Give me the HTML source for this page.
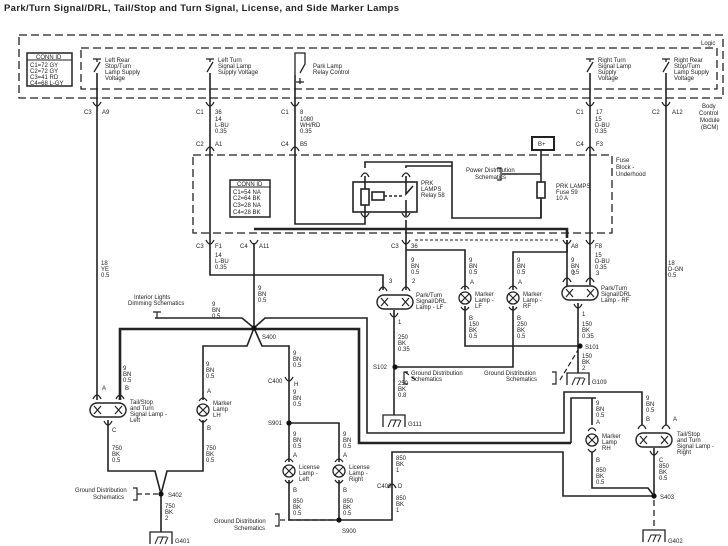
<!DOCTYPE html>
<html><head><meta charset="utf-8"><style>
html,body{margin:0;padding:0;background:#fff;}
svg{display:block;}
text{font-family:"Liberation Sans",sans-serif;fill:#222;font-size:6px;}
.t{font-size:9.5px;font-weight:bold;}
</style></head><body>
<svg width="728" height="546" viewBox="0 0 728 546" xmlns="http://www.w3.org/2000/svg">
<defs>
<g id="cup"><path d="M-4,-3 Q0,5 4,-3" fill="none" stroke="#222" stroke-width="1.3"/></g>
<g id="arch"><path d="M-4,3 Q0,-5 4,3" fill="none" stroke="#222" stroke-width="1.3"/></g>
<g id="bulb"><path d="M-4,-9 Q0,-15 4,-9" fill="none" stroke="#222" stroke-width="1.2"/><path d="M-4,9 Q0,15 4,9" fill="none" stroke="#222" stroke-width="1.2"/><circle r="6" fill="#fff" stroke="#222" stroke-width="1.3"/><path d="M-4,-4 L4,4 M4,-4 L-4,4" stroke="#222" stroke-width="1.2"/></g>
<g id="dbl"><rect x="-18" y="-7" width="36" height="14" rx="7" fill="#fff" stroke="#222" stroke-width="1.4"/><path d="M-14,-4 L-7,4 M-7,-4 L-14,4 M7,-4 L14,4 M14,-4 L7,4" stroke="#222" stroke-width="1.2"/></g>
<g id="gnd"><path d="M-11,12 L-11,0 L11,0 L11,12" fill="none" stroke="#222" stroke-width="1.3"/><path d="M-6,12 L-3,5 L6,5 M-1,12 L2,5 M4,12 L7,5" fill="none" stroke="#222" stroke-width="1"/></g>
<g id="sw"><path d="M-4,0 L4,0 M0,0 L0,3 M3,3 L-3,13" fill="none" stroke="#222" stroke-width="1.3"/></g>
</defs>
<text x="4" y="11" class="t" textLength="395">Park/Turn Signal/DRL, Tail/Stop and Turn Signal, License, and Side Marker Lamps</text>

<g fill="none" stroke="#222" stroke-width="1.3" stroke-dasharray="8,4">
<rect x="19" y="35" width="704" height="63"/>
<rect x="81" y="48" width="636" height="41"/>
<rect x="193" y="155" width="419" height="78"/>
</g>
<text x="701" y="45">Logic</text>
<text x="702" y="108">Body</text><text x="699" y="115">Control</text><text x="700" y="122">Module</text><text x="701" y="129">(BCM)</text>
<text x="616" y="162">Fuse</text><text x="616" y="169">Block -</text><text x="616" y="176">Underhood</text>

<!-- CONN ID boxes -->
<rect x="27" y="53" width="45" height="33" fill="none" stroke="#222" stroke-width="1.5"/>
<line x1="27" y1="60" x2="72" y2="60" stroke="#222"/>
<text x="36" y="59">CONN ID</text>
<text x="30" y="67">C1=72 GY</text><text x="30" y="73">C2=72 GY</text><text x="30" y="79">C3=41 RD</text><text x="30" y="85">C4=68 L-GY</text>
<rect x="230" y="180" width="40" height="37" fill="none" stroke="#222" stroke-width="1.5"/>
<line x1="230" y1="187" x2="270" y2="187" stroke="#222"/>
<text x="237" y="186">CONN ID</text>
<text x="233" y="194">C1=54 NA</text><text x="233" y="200">C2=64 BK</text><text x="233" y="207">C3=28 NA</text><text x="233" y="214">C4=28 BK</text>

<!-- switches -->
<use href="#sw" x="97" y="59"/><use href="#sw" x="210" y="59"/><use href="#sw" x="590" y="59"/><use href="#sw" x="666" y="59"/>
<text x="105" y="62">Left Rear</text><text x="105" y="68">Stop/Turn</text><text x="105" y="74">Lamp Supply</text><text x="105" y="80">Voltage</text>
<text x="218" y="62">Left Turn</text><text x="218" y="68">Signal Lamp</text><text x="218" y="74">Supply Voltage</text>
<path d="M295,75 L295,53 L305,53 L305,64 L300,73 M296,82 L304,82 M300,78 L300,84" fill="none" stroke="#222" stroke-width="1.3"/>
<text x="313" y="68">Park Lamp</text><text x="313" y="74">Relay Control</text>
<text x="598" y="62">Right Turn</text><text x="598" y="68">Signal Lamp</text><text x="598" y="74">Supply</text><text x="598" y="80">Voltage</text>
<text x="674" y="62">Right Rear</text><text x="674" y="68">Stop/Turn</text><text x="674" y="74">Lamp Supply</text><text x="674" y="80">Voltage</text>

<g fill="none" stroke="#222" stroke-width="1.6">
<!-- main verticals -->
<path d="M97,73 L97,400"/>
<path d="M210,73 L210,275 L383,275 L383,290"/>
<path d="M295,75 L295,224 L365,224 L365,216"/>
<path d="M590,73 L590,285"/>
<path d="M666,73 L666,425"/>
<path d="M254,243 L254,328"/>
<!-- relay -->
<rect x="353" y="182" width="64" height="30"/>
<rect x="361" y="189" width="8" height="16"/>
<path d="M365,176 L365,189 M365,205 L365,216 M406,176 L406,194 L413,186 M406,200 L406,216"/>
<rect x="372" y="192" width="12" height="8"/>
<path d="M384,196 L404,196" stroke-dasharray="3,2"/>
<path d="M365,168 L365,162 L452,162 L452,218 L541,218 L541,200"/>
<path d="M406,168 L406,166 L452,166"/>
<path d="M541,150 L541,182 M541,198 L541,218"/>
<rect x="537" y="182" width="8" height="16"/>
<path d="M502,174 L541,174"/>
<path d="M406,220 L406,290"/>
<path d="M406,250 L465,250 L465,290"/>
<path d="M567,240 L567,252 L513,252 L513,290"/>
<path d="M567,240 L567,286"/>
<!-- lower -->
<path d="M394,310 L394,415"/>
<path d="M394,367 L513,367 L513,306"/>
<path d="M465,306 L465,346 L580,346"/>
<path d="M578,303 L578,373"/>
<path d="M155,318 L242,318 L254,328 L265,318 L367,318 L367,433 L564,433 L564,392 L642,392 L642,425"/>
<path d="M254,328 L247,346 L203,346 L203,400 M254,328 L262,346 L289,346 L289,462"/>
<path d="M289,423 L339,423 L339,462"/>
<path d="M108,420 L108,471 L155,471 L161,494 L167,471 L203,471 L203,420"/>
<path d="M161,494 L161,532"/>
<path d="M289,480 L289,520 L339,520 L339,480"/>
<path d="M339,520 L392,520 L392,452 L563,452 L563,496 L654,496"/>
<path d="M592,398 L592,425 M592,452 L592,488 L648,488 L654,496 L654,448"/>
<path d="M571,443 L571,398 L596,398"/>
</g>
<g fill="none" stroke="#222" stroke-width="2.6">
<path d="M254,229 L567,229 L567,238"/>
<path d="M120,400 L120,329 L359,329 L359,443 L571,443"/>
</g>
<path d="M654,500 L654,530" stroke="#222" stroke-width="1.3" stroke-dasharray="6,4"/>
<path d="M415,240 L560,240" stroke="#222" stroke-width="1" stroke-dasharray="3,2"/>
<g stroke="#222" stroke-width="1.2" stroke-dasharray="5,3" fill="none">
<path d="M137,494 L161,494"/><path d="M280,520 L336,520"/><path d="M405,372 L416,380"/><path d="M560,380 L578,350"/>
</g>
<!-- B+ -->
<rect x="532" y="137" width="22" height="13" fill="#fff" stroke="#222" stroke-width="2"/>
<text x="538" y="146">B+</text>
<path d="M497,168 L501,168 L501,180 L497,180 M157,318 L157,312 M153,312 L161,312 M133,488 L137,488 L137,500 L133,500 M275,514 L279,514 L279,526 L275,526 M408,372 L404,372 L404,384 L408,384 M552,372 L556,372 L556,384 L552,384" fill="none" stroke="#222" stroke-width="1.2"/>
<text x="466" y="172">Power Distribution</text><text x="475" y="179">Schematics</text>
<text x="556" y="188">PRK LAMPS</text><text x="556" y="194">Fuse 59</text><text x="556" y="200">10 A</text>
<text x="421" y="185">PRK</text><text x="421" y="191">LAMPS</text><text x="421" y="197">Relay 58</text>
<text x="134" y="299">Interior Lights</text><text x="128" y="305">Dimming Schematics</text>
<text x="75" y="492">Ground Distribution</text><text x="93" y="499">Schematics</text>
<text x="214" y="523">Ground Distribution</text><text x="234" y="530">Schematics</text>
<text x="411" y="375">Ground Distribution</text><text x="411" y="381">Schematics</text>
<text x="484" y="375">Ground Distribution</text><text x="506" y="381">Schematics</text>

<!-- connectors -->
<use href="#cup" x="97" y="105"/><use href="#cup" x="210" y="105"/><use href="#cup" x="295" y="105"/><use href="#cup" x="590" y="105"/><use href="#cup" x="666" y="105"/>
<use href="#arch" x="210" y="148"/><use href="#arch" x="295" y="148"/><use href="#arch" x="590" y="148"/>
<use href="#cup" x="210" y="243"/><use href="#cup" x="254" y="243"/><use href="#cup" x="406" y="243"/><use href="#cup" x="567" y="243"/><use href="#cup" x="590" y="243"/>
<use href="#arch" x="365" y="174"/><use href="#arch" x="406" y="174"/><use href="#cup" x="365" y="216"/><use href="#cup" x="406" y="216"/>
<use href="#cup" x="289" y="380"/><use href="#arch" x="392" y="485"/>
<text x="84" y="114">C3</text><text x="102" y="114">A9</text>
<text x="196" y="114">C1</text><text x="215" y="114">36</text>
<text x="281" y="114">C1</text><text x="300" y="114">8</text>
<text x="576" y="114">C1</text><text x="596" y="114">17</text>
<text x="652" y="114">C2</text><text x="672" y="114">A12</text>
<text x="196" y="146">C2</text><text x="215" y="146">A1</text>
<text x="281" y="146">C4</text><text x="300" y="146">B5</text>
<text x="576" y="146">C4</text><text x="596" y="146">F3</text>
<text x="196" y="248">C3</text><text x="215" y="248">F1</text>
<text x="240" y="248">C4</text><text x="259" y="248">A11</text>
<text x="391" y="248">C3</text><text x="411" y="248">36</text>
<text x="571" y="248">A8</text><text x="595" y="248">F8</text>
<text x="268" y="383">C400</text><text x="294" y="386">H</text>
<text x="377" y="488">C400</text><text x="398" y="488">D</text>
<!-- wire labels -->
<g>
<text x="215" y="121">14</text><text x="215" y="127">L-BU</text><text x="215" y="133">0.35</text>
<text x="300" y="121">1080</text><text x="300" y="127">WH/RD</text><text x="300" y="133">0.35</text>
<text x="595" y="121">15</text><text x="595" y="127">D-BU</text><text x="595" y="133">0.35</text>
<text x="215" y="257">14</text><text x="215" y="263">L-BU</text><text x="215" y="269">0.35</text>
<text x="101" y="265">18</text><text x="101" y="271">YE</text><text x="101" y="277">0.5</text>
<text x="668" y="265">18</text><text x="668" y="271">D-GN</text><text x="668" y="277">0.5</text>
<text x="258" y="290">9</text><text x="258" y="296">BN</text><text x="258" y="302">0.5</text>
<text x="212" y="306">9</text><text x="212" y="312">BN</text><text x="212" y="318">0.5</text>
<text x="411" y="262">9</text><text x="411" y="268">BN</text><text x="411" y="274">0.5</text>
<text x="469" y="262">9</text><text x="469" y="268">BN</text><text x="469" y="274">0.5</text>
<text x="517" y="262">9</text><text x="517" y="268">BN</text><text x="517" y="274">0.5</text>
<text x="571" y="262">9</text><text x="571" y="268">BN</text><text x="571" y="274">0.5</text>
<text x="595" y="257">15</text><text x="595" y="263">D-BU</text><text x="595" y="269">0.35</text>
<text x="123" y="370">9</text><text x="123" y="376">BN</text><text x="123" y="382">0.5</text>
<text x="206" y="366">9</text><text x="206" y="372">BN</text><text x="206" y="378">0.5</text>
<text x="293" y="355">9</text><text x="293" y="361">BN</text><text x="293" y="367">0.5</text>
<text x="293" y="394">9</text><text x="293" y="400">BN</text><text x="293" y="406">0.5</text>
<text x="293" y="436">9</text><text x="293" y="442">BN</text><text x="293" y="448">0.5</text>
<text x="343" y="436">9</text><text x="343" y="442">BN</text><text x="343" y="448">0.5</text>
<text x="112" y="450">750</text><text x="112" y="456">BK</text><text x="112" y="462">0.5</text>
<text x="206" y="450">750</text><text x="206" y="456">BK</text><text x="206" y="462">0.5</text>
<text x="165" y="508">750</text><text x="165" y="514">BK</text><text x="165" y="520">2</text>
<text x="293" y="503">850</text><text x="293" y="509">BK</text><text x="293" y="515">0.5</text>
<text x="343" y="503">850</text><text x="343" y="509">BK</text><text x="343" y="515">0.5</text>
<text x="396" y="460">850</text><text x="396" y="466">BK</text><text x="396" y="472">1</text>
<text x="396" y="500">850</text><text x="396" y="506">BK</text><text x="396" y="512">1</text>
<text x="398" y="339">250</text><text x="398" y="345">BK</text><text x="398" y="351">0.35</text>
<text x="469" y="326">150</text><text x="469" y="332">BK</text><text x="469" y="338">0.5</text>
<text x="517" y="326">250</text><text x="517" y="332">BK</text><text x="517" y="338">0.5</text>
<text x="582" y="326">150</text><text x="582" y="332">BK</text><text x="582" y="338">0.35</text>
<text x="582" y="358">150</text><text x="582" y="364">BK</text><text x="582" y="370">2</text>
<text x="398" y="385">250</text><text x="398" y="391">BK</text><text x="398" y="397">0.8</text>
<text x="596" y="405">9</text><text x="596" y="411">BN</text><text x="596" y="417">0.5</text>
<text x="646" y="400">9</text><text x="646" y="406">BN</text><text x="646" y="412">0.5</text>
<text x="596" y="472">850</text><text x="596" y="478">BK</text><text x="596" y="484">0.5</text>
<text x="659" y="468">850</text><text x="659" y="474">BK</text><text x="659" y="480">0.5</text>
</g>
<!-- splices -->
<g fill="#111"><circle cx="254" cy="328" r="2.6"/><circle cx="161" cy="494" r="2.6"/><circle cx="289" cy="423" r="2.6"/><circle cx="339" cy="520" r="2.6"/><circle cx="395" cy="367" r="2.6"/><circle cx="580" cy="346" r="2.6"/><circle cx="654" cy="496" r="2.6"/></g>
<text x="262" y="339">S400</text><text x="168" y="497">S402</text><text x="268" y="425">S901</text><text x="342" y="533">S900</text>
<text x="373" y="369">S102</text><text x="585" y="349">S101</text><text x="660" y="499">S403</text>
<!-- grounds -->
<use href="#gnd" x="161" y="532"/><use href="#gnd" x="394" y="415"/><use href="#gnd" x="578" y="373"/><use href="#gnd" x="654" y="530"/>
<text x="175" y="543">G401</text><text x="408" y="426">G111</text><text x="592" y="384">G109</text><text x="668" y="543">G402</text>
<!-- lamps -->
<use href="#dbl" x="108" y="410"/>
<use href="#arch" x="97" y="396"/><use href="#arch" x="120" y="396"/><use href="#cup" x="108" y="424"/>
<text x="102" y="390">A</text><text x="125" y="390">B</text><text x="112" y="432">C</text>
<text x="130" y="404">Tail/Stop</text><text x="130" y="410">and Turn</text><text x="130" y="416">Signal Lamp -</text><text x="130" y="422">Left</text>
<use href="#bulb" x="203" y="410"/><text x="207" y="393">A</text><text x="207" y="430">B</text>
<text x="213" y="405">Marker</text><text x="213" y="411">Lamp</text><text x="213" y="417">LH</text>
<use href="#bulb" x="289" y="471"/><text x="293" y="457">A</text><text x="293" y="492">B</text>
<text x="299" y="469">License</text><text x="299" y="475">Lamp -</text><text x="299" y="481">Left</text>
<use href="#bulb" x="339" y="471"/><text x="343" y="457">A</text><text x="343" y="492">B</text>
<text x="349" y="469">License</text><text x="349" y="475">Lamp -</text><text x="349" y="481">Right</text>
<use href="#dbl" x="395" y="302"/>
<use href="#arch" x="383" y="288"/><use href="#arch" x="406" y="288"/><use href="#cup" x="394" y="316"/>
<text x="389" y="283">3</text><text x="412" y="283">2</text><text x="398" y="324">1</text>
<text x="416" y="297">Park/Turn</text><text x="416" y="303">Signal/DRL</text><text x="416" y="309">Lamp - LF</text>
<use href="#bulb" x="465" y="298"/><text x="470" y="284">A</text><text x="469" y="320">B</text>
<text x="475" y="296">Marker</text><text x="475" y="302">Lamp -</text><text x="475" y="308">LF</text>
<use href="#bulb" x="513" y="298"/><text x="518" y="284">A</text><text x="517" y="320">B</text>
<text x="523" y="296">Marker</text><text x="523" y="302">Lamp -</text><text x="523" y="308">RF</text>
<use href="#dbl" x="580" y="293"/>
<use href="#arch" x="567" y="279"/><use href="#arch" x="590" y="279"/><use href="#cup" x="578" y="307"/>
<text x="572" y="275">2</text><text x="596" y="275">3</text><text x="582" y="316">1</text>
<text x="601" y="290">Park/Turn</text><text x="601" y="296">Signal/DRL</text><text x="601" y="302">Lamp - RF</text>
<use href="#bulb" x="592" y="440"/><text x="596" y="424">A</text><text x="596" y="462">B</text>
<text x="602" y="438">Marker</text><text x="602" y="444">Lamp</text><text x="602" y="450">RH</text>
<use href="#dbl" x="654" y="440"/>
<use href="#arch" x="642" y="426"/><use href="#arch" x="666" y="426"/><use href="#cup" x="654" y="454"/>
<text x="646" y="421">B</text><text x="673" y="421">A</text><text x="659" y="462">C</text>
<text x="677" y="436">Tail/Stop</text><text x="677" y="442">and Turn</text><text x="677" y="448">Signal Lamp -</text><text x="677" y="454">Right</text>
</svg>
</body></html>
